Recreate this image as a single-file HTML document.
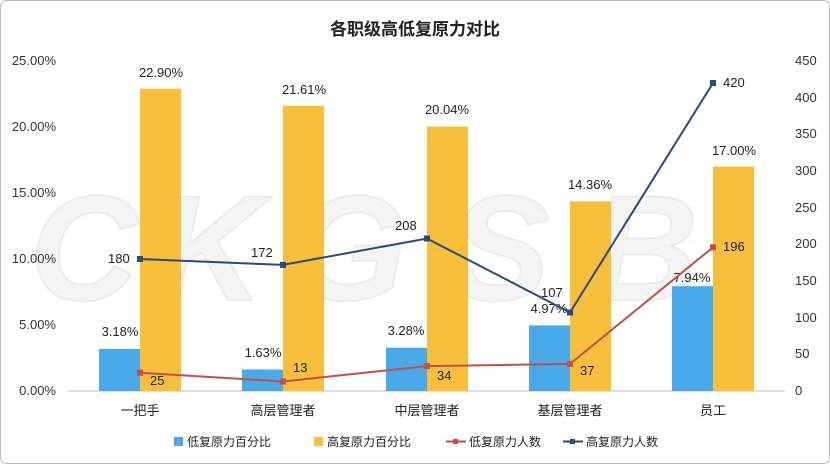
<!DOCTYPE html>
<html><head><meta charset="utf-8"><style>
body{margin:0;background:#fff;}
svg{display:block;font-family:"Liberation Sans","Noto Sans CJK SC",sans-serif;}
</style></head><body>
<svg width="830" height="464" viewBox="0 0 830 464">
<rect x="0.5" y="0.5" width="829" height="463" rx="6" fill="#fff" stroke="#bdbdbd"/>
<g font-size="150" font-weight="bold" fill="#f4f4f4" stroke="#ececec" stroke-width="2" font-family="Liberation Sans,sans-serif" font-style="italic">
<text x="30" y="300">C</text><text x="155" y="300">K</text><text x="290" y="300">G</text><text x="450" y="300">S</text><text x="590" y="300">B</text>
</g>
<text x="415" y="35" text-anchor="middle" font-size="17" font-weight="bold" fill="#222">各职级高低复原力对比</text>
<g font-size="13" fill="#333" text-anchor="end">
<text x="56" y="395">0.00%</text><text x="56" y="329">5.00%</text><text x="56" y="263">10.00%</text><text x="56" y="197">15.00%</text><text x="56" y="131">20.00%</text><text x="56" y="65">25.00%</text>
</g>
<g font-size="13" fill="#333" text-anchor="start">
<text x="795" y="395">0</text><text x="795" y="358">50</text><text x="795" y="322">100</text><text x="795" y="285">150</text><text x="795" y="248">200</text><text x="795" y="212">250</text><text x="795" y="175">300</text><text x="795" y="138">350</text><text x="795" y="102">400</text><text x="795" y="65">450</text>
</g>
<line x1="68" y1="391" x2="785" y2="391" stroke="#bfbfbf"/>
<g fill="#4aa9e9">
<rect x="99" y="349" width="41" height="42"/><rect x="242" y="369.5" width="41" height="21.5"/><rect x="386" y="347.7" width="41" height="43.3"/><rect x="529" y="325.4" width="41" height="65.6"/><rect x="672" y="286.2" width="41" height="104.8"/>
</g>
<g fill="#f7bf3c">
<rect x="140" y="88.7" width="41" height="302.3"/><rect x="283" y="105.7" width="41" height="285.3"/><rect x="427" y="126.5" width="41" height="264.5"/><rect x="570" y="201.4" width="41" height="189.6"/><rect x="713" y="166.6" width="41" height="224.4"/>
</g>
<g font-size="13" fill="#222" text-anchor="middle">
<text x="120" y="336">3.18%</text><text x="263" y="357">1.63%</text><text x="406" y="335">3.28%</text><text x="549" y="313">4.97%</text><text x="692" y="282">7.94%</text>
<text x="161" y="77">22.90%</text><text x="304" y="94">21.61%</text><text x="447" y="114">20.04%</text><text x="590" y="189">14.36%</text><text x="734" y="155">17.00%</text>
</g>
<polyline points="140,372.7 283,381.5 427,366.1 570,363.9 713,247.3" fill="none" stroke="#c0504d" stroke-width="2"/>
<polyline points="140,259 283,264.9 427,238.5 570,312.5 713,83" fill="none" stroke="#2a4a7f" stroke-width="2"/>
<g fill="#c0504d"><rect x="137" y="369.7" width="6" height="6"/><rect x="280" y="378.5" width="6" height="6"/><rect x="424" y="363.1" width="6" height="6"/><rect x="567" y="360.9" width="6" height="6"/><rect x="710" y="244.3" width="6" height="6"/></g>
<g fill="#2a4a7f"><rect x="137" y="256" width="6" height="6"/><rect x="280" y="261.9" width="6" height="6"/><rect x="424" y="235.5" width="6" height="6"/><rect x="567" y="309.5" width="6" height="6"/><rect x="710" y="80" width="6" height="6"/></g>
<g font-size="13" fill="#222">
<text x="150" y="385">25</text><text x="293" y="372">13</text><text x="437" y="380">34</text><text x="580" y="375">37</text><text x="723" y="251">196</text>
<text x="108" y="263">180</text><text x="251" y="257">172</text><text x="395" y="230">208</text><text x="541" y="297">107</text><text x="723" y="87">420</text>
</g>
<g font-size="13" fill="#222" text-anchor="middle">
<text x="140" y="415">一把手</text><text x="283" y="415">高层管理者</text><text x="427" y="415">中层管理者</text><text x="570" y="415">基层管理者</text><text x="713" y="415">员工</text>
</g>
<g font-size="12" fill="#222">
<rect x="174" y="437" width="9" height="9" fill="#4aa9e9"/><text x="187" y="446">低复原力百分比</text>
<rect x="314" y="437" width="9" height="9" fill="#f7bf3c"/><text x="327" y="446">高复原力百分比</text>
<line x1="446" y1="441.5" x2="466" y2="441.5" stroke="#c0504d" stroke-width="2"/><rect x="453" y="439" width="5" height="5" fill="#c0504d"/><text x="469" y="446">低复原力人数</text>
<line x1="563" y1="441.5" x2="583" y2="441.5" stroke="#2a4a7f" stroke-width="2"/><rect x="570" y="439" width="5" height="5" fill="#2a4a7f"/><text x="586" y="446">高复原力人数</text>
</g>
</svg>
</body></html>
